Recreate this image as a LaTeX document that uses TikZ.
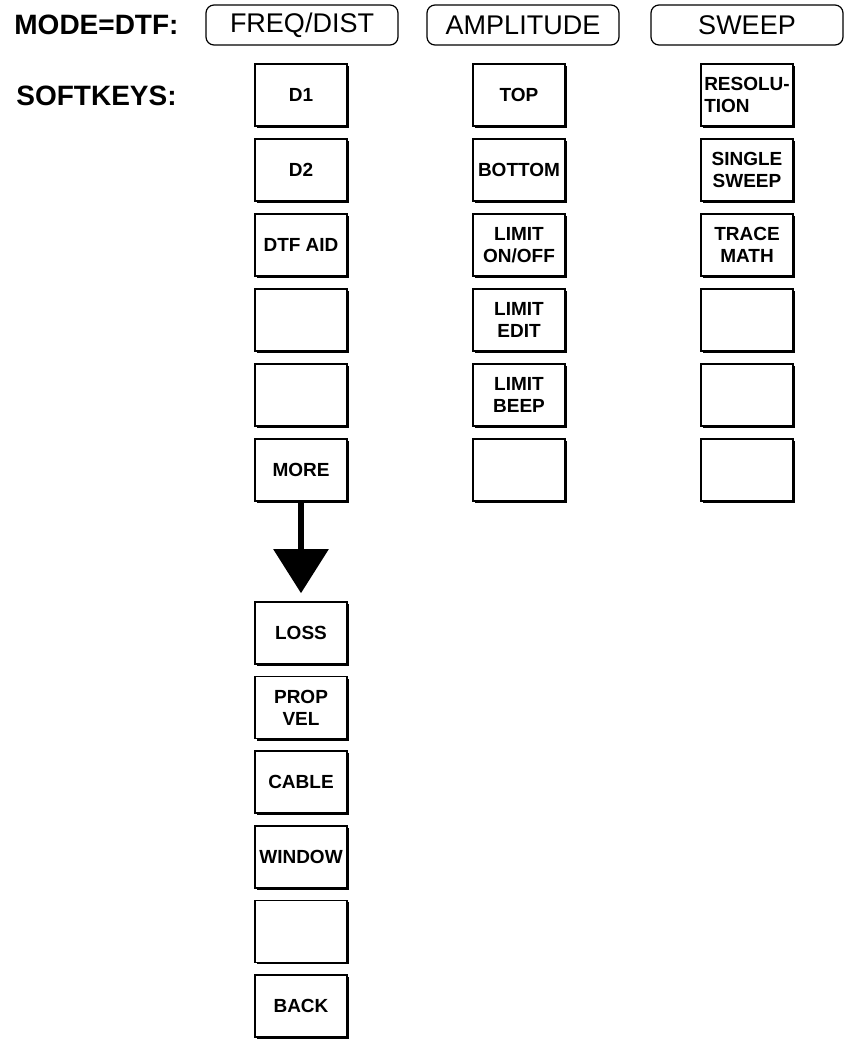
\documentclass[tikz,border=0pt]{standalone}
\usepackage{fontspec}
\setmainfont{Liberation Sans}
\usetikzlibrary{arrows.meta,shadows}
\tikzset{%
  menubox/.style  = {shape=rectangle, rounded corners=4pt, draw, line width=0.6pt,%
                     minimum width=96pt, minimum height=20pt,%
                     font=\fontsize{13.5}{15}\selectfont},%
  softkey/.style  = {shape=rectangle, draw, line width=0.8pt, fill=white, align=center,%
                     minimum width=46pt, minimum height=31pt, inner sep=1pt,%
                     drop shadow={shadow xshift=1pt, shadow yshift=-1pt, fill=black, opacity=1},%
                     font=\bfseries\fontsize{9.5}{11}\selectfont},%
  rowlabel/.style = {anchor=west, inner sep=0pt, font=\bfseries\fontsize{14}{16}\selectfont}%
}

\begin{document}
\begin{tikzpicture}[x=0.5pt,y=-0.5pt]
	\useasboundingbox (0,0) rectangle (844,1040);
	% mode line and menu keys
	\node [rowlabel] (mode) at (14,25) {MODE=DTF:};
	\node [rowlabel] (keys) at (16,96) {SOFTKEYS:};
	\node [menubox] (freq) at (302,25) {FREQ/DIST};
	\node [menubox] (ampl) at (523,25) {AMPLITUDE};
	\node [menubox] (swp) at (747,25) {SWEEP};
	% softkey columns
	\foreach \lbl [count=\i] in {D1,D2,DTF AID,{},{},MORE}
		\node [softkey] (f\i) at (301,20+75*\i) {\lbl};
	\foreach \lbl [count=\i] in {TOP,BOTTOM,{LIMIT\\ON/OFF},{LIMIT\\EDIT},{LIMIT\\BEEP},{}}
		\node [softkey] (a\i) at (519,20+75*\i) {\lbl};
	\node [softkey, align=left] (s1) at (747,95) {RESOLU-\\TION};
	\foreach \lbl [count=\i from 2] in {{SINGLE\\SWEEP},{TRACE\\MATH},{},{},{}}
		\node [softkey] (s\i) at (747,20+75*\i) {\lbl};
	% second page behind MORE
	\foreach \lbl [count=\i] in {LOSS,{PROP\\VEL},CABLE,WINDOW,{},BACK}
		\node [softkey] (m\i) at (301,558.4+74.6*\i) {\lbl};
	\draw [line width=3pt, shorten >=4pt, -{Triangle[width=27pt,length=22pt]}] (f6.south) -- (m1.north);
\end{tikzpicture}
\end{document}
